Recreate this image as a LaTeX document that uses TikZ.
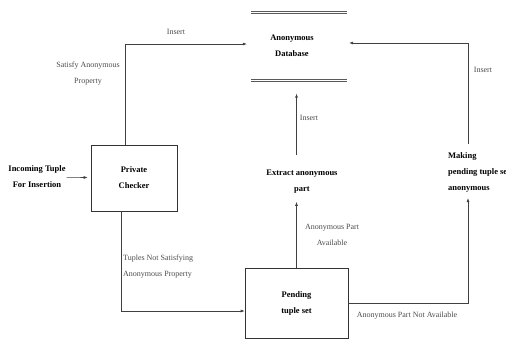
\documentclass[tikz,border=0pt]{standalone}
\usepackage{fontspec}
\setmainfont{Liberation Serif}
\usetikzlibrary{arrows.meta,calc}
\begin{document}
\begin{tikzpicture}[x=1pt,y=-1pt,
  boxnode/.style={draw=black!80,line width=0.6pt,align=center,font=\fontsize{8.5}{16}\selectfont\bfseries},
  btext/.style={align=center,font=\fontsize{8.5}{16}\selectfont\bfseries,inner sep=1pt},
  lbl/.style={align=center,text=black!70,font=\fontsize{8}{16}\selectfont,inner sep=1pt},
  arr/.style={draw=black!75,line width=0.6pt,-{Latex[length=4pt,width=3pt]}},
  dbline/.style={draw=black!65,line width=0.8pt}]
\useasboundingbox (0,0) rectangle (506,339);
% boxes
\node[boxnode,minimum width=86pt,minimum height=66pt] (pc) at (134,178) {Private\\Checker};
\node[boxnode,minimum width=103pt,minimum height=70pt] (pt) at (296.5,303) {Pending\\tuple set};
% database
\node[minimum width=102pt,minimum height=68pt,inner sep=0pt] (db) at (298,46.5) {};
\node[btext] (dbt) at (292,45.5) {Anonymous\\Database};
\draw[dbline] ([xshift=4pt,yshift=1pt]db.north west) -- ([xshift=-2pt,yshift=1pt]db.north east);
\draw[dbline] ([xshift=4pt,yshift=-1pt]db.north west) -- ([xshift=-2pt,yshift=-1pt]db.north east);
\draw[dbline] ([xshift=4pt,yshift=1pt]db.south west) -- ([xshift=-2pt,yshift=1pt]db.south east);
\draw[dbline] ([xshift=4pt,yshift=-1pt]db.south west) -- ([xshift=-2pt,yshift=-1pt]db.south east);
% other texts
\node[btext] (in) at (37,177) {Incoming Tuple\\For Insertion};
\node[btext] (ex) at (302,182) {Extract anonymous\\part};
\node[btext,align=left,anchor=west] (mk) at (447,172) {Making\\pending tuple set\\anonymous};
\coordinate (mkc) at (468,172);
% connectors
\draw[arr,shorten >=3pt] (in) -- (pc);
\draw[arr] ($(pc.north west)!0.4!(pc.north east)$) |- ([yshift=2.5pt]db.west);
\draw[arr] ($(pc.south west)!0.35!(pc.south east)$) |- ([yshift=-8pt]pt.west);
\draw[arr,shorten >=7pt] (pt.north) -- (pt.north |- ex.south);
\draw[arr,shorten <=14pt,shorten >=13pt] (pt.north |- ex.north) -- (pt.north |- db.south);
\draw[arr,shorten >=5pt] (pt.east) -| (mkc |- mk.south);
\draw[arr,shorten <=7pt] (mkc |- mk.north) |- ([yshift=3.5pt]db.east);
% labels
\node[lbl] (l1) at (176,32) {Insert};
\node[lbl] (l2) at (88,74) {Satisfy Anonymous\\Property};
\node[lbl,align=left,anchor=west] (l3) at (122,267) {Tuples Not Satisfying\\Anonymous Property};
\node[lbl] (l4) at (332,235) {Anonymous Part\\Available};
\node[lbl] (l5) at (309,118) {Insert};
\node[lbl] (l6) at (407,316) {Anonymous Part Not Available};
\node[lbl] (l7) at (483,70) {Insert};
\end{tikzpicture}
\end{document}
